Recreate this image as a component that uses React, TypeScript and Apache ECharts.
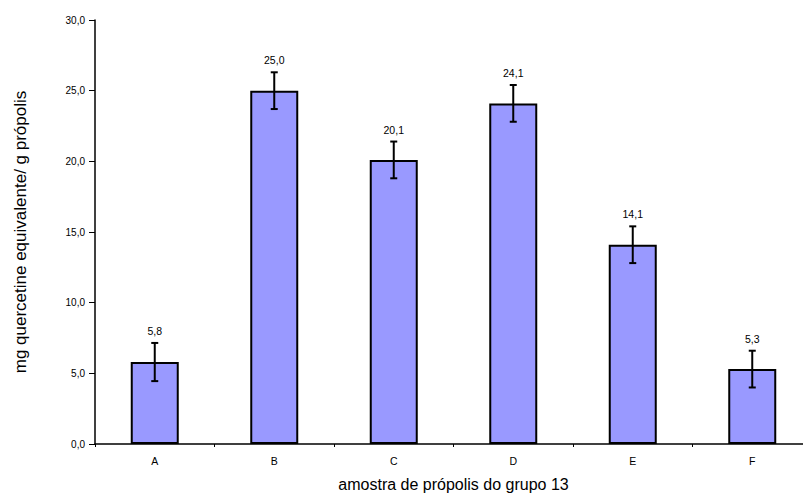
import React, { useEffect, useRef } from "react";
import * as echarts from "echarts";

const categories = ["A", "B", "C", "D", "E", "F"];
const values = [5.8, 25.0, 20.1, 24.1, 14.1, 5.3];
const errors = [1.35, 1.3, 1.3, 1.3, 1.3, 1.3];
const yTicks = [0, 5, 10, 15, 20, 25, 30];

const fmt = (v: number) => v.toFixed(1).replace(".", ",");
const FONT = "'Liberation Sans', Arial, sans-serif";

export default function App() {
  const ref = useRef<HTMLDivElement>(null);
  useEffect(() => {
    if (!ref.current) return;
    const chart = echarts.init(ref.current, null, { renderer: "svg" });
    const errData = values.map((v, i) => [i, v, errors[i]]);
    chart.setOption({
      animation: false,
      backgroundColor: "#ffffff",
      textStyle: { fontFamily: FONT },
      grid: {
        left: 95,
        top: 20,
        width: 717,
        height: 424,
        containLabel: false,
        outerBoundsMode: "none",
      },
      xAxis: {
        type: "category",
        data: categories,
        boundaryGap: true,
        axisLine: { lineStyle: { color: "#000", width: 1.5 } },
        axisTick: { show: true, length: 3, inside: false, lineStyle: { color: "#000" } },
        axisLabel: { color: "#000", fontSize: 10.5, margin: 11, fontFamily: FONT },
        name: "amostra de própolis do grupo 13",
        nameLocation: "middle",
        nameGap: 32,
        nameTextStyle: { color: "#000", fontSize: 16, fontFamily: FONT },
      },
      yAxis: {
        type: "value",
        min: yTicks[0],
        max: yTicks[yTicks.length - 1],
        interval: 5,
        splitLine: { show: false },
        axisLine: { show: true, lineStyle: { color: "#000", width: 1.5 } },
        axisTick: { show: true, length: 6, lineStyle: { color: "#000" } },
        axisLabel: { color: "#000", fontSize: 10, margin: 10, formatter: (v: number) => fmt(v), fontFamily: FONT },
        name: "mg quercetine equivalente/ g própolis",
        nameLocation: "middle",
        nameGap: 66,
        nameRotate: 90,
        nameTextStyle: { color: "#000", fontSize: 17, fontFamily: FONT },
      },
      series: [
        {
          type: "bar",
          data: values,
          barWidth: 48,
          itemStyle: { color: "#9999ff", borderColor: "#000", borderWidth: 2 },
        },
        {
          type: "custom",
          data: errData,
          z: 10,
          renderItem: (params: any, api: any) => {
            const i = api.value(0);
            const v = api.value(1);
            const e = api.value(2);
            const top = api.coord([i, v + e]);
            const bot = api.coord([i, v - e]);
            const x = top[0];
            const cap = 3.5;
            const style = { stroke: "#000", lineWidth: 2 };
            return {
              type: "group",
              children: [
                { type: "line", shape: { x1: x, y1: top[1], x2: x, y2: bot[1] }, style },
                { type: "line", shape: { x1: x - cap, y1: top[1], x2: x + cap, y2: top[1] }, style },
                { type: "line", shape: { x1: x - cap, y1: bot[1], x2: x + cap, y2: bot[1] }, style },
                {
                  type: "text",
                  x: x,
                  y: top[1] - 12,
                  style: {
                    text: fmt(v),
                    fill: "#000",
                    fontSize: 10.5,
                    fontFamily: FONT,
                    align: "center",
                    verticalAlign: "middle",
                  },
                },
              ],
            };
          },
        },
      ],
    });
    return () => chart.dispose();
  }, []);
  return (
    <div
      ref={ref}
      style={{ position: "absolute", left: 0, top: 0, width: 803, height: 493, background: "#fff" }}
    />
  );
}
